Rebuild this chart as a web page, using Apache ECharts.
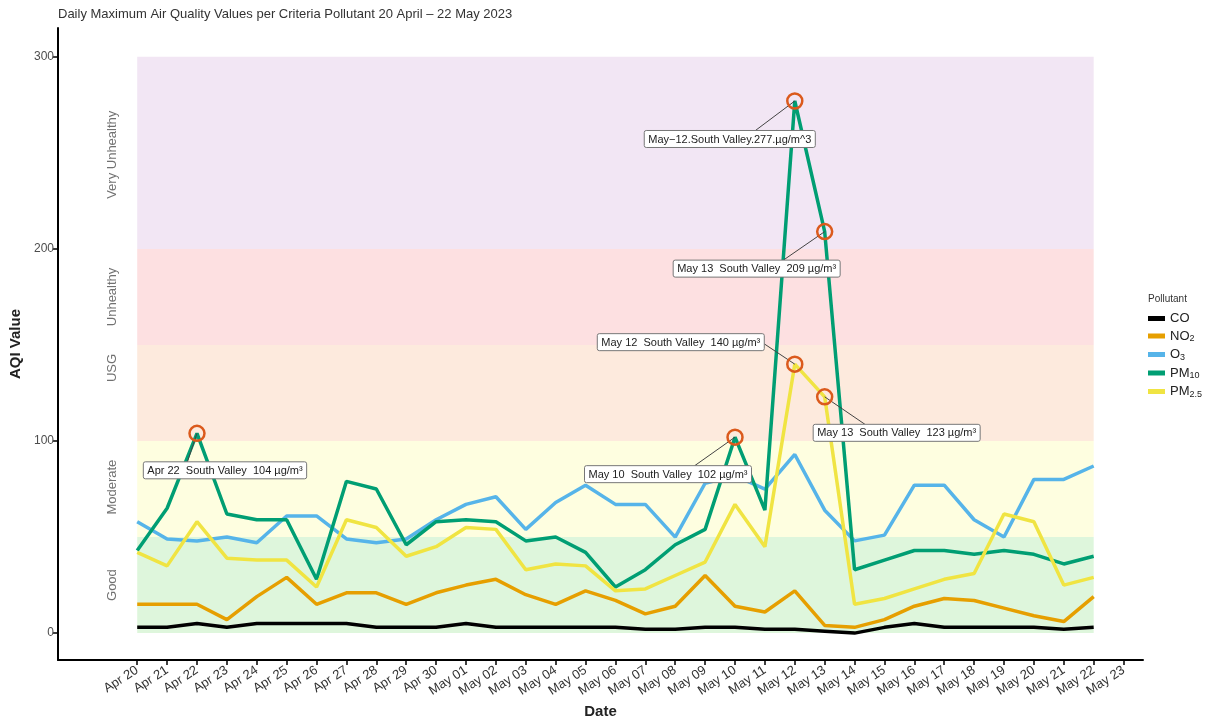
<!DOCTYPE html>
<html>
<head>
<meta charset="utf-8">
<script src="https://cdn.jsdelivr.net/npm/echarts@6/dist/echarts.min.js"></script>
<style>
  html, body { margin: 0; padding: 0; background: #fff; }
  #chart { width: 1228px; height: 718px; }
</style>
</head>
<body>
<div id="chart"></div>
<script>
// day labels, index 0 = Apr 20
const dateLabels = [
  'Apr 20', 'Apr 21', 'Apr 22', 'Apr 23', 'Apr 24', 'Apr 25', 'Apr 26', 'Apr 27',
  'Apr 28', 'Apr 29', 'Apr 30', 'May 01', 'May 02', 'May 03', 'May 04', 'May 05',
  'May 06', 'May 07', 'May 08', 'May 09', 'May 10', 'May 11', 'May 12', 'May 13',
  'May 14', 'May 15', 'May 16', 'May 17', 'May 18', 'May 19', 'May 20', 'May 21',
  'May 22', 'May 23'
];
const yTicks = [0, 100, 200, 300];

// daily max AQI per pollutant (Apr 20 - May 22)
const coValues = [3, 3, 5, 3, 5, 5, 5, 5, 3, 3, 3, 5, 3, 3, 3, 3, 3, 2, 2, 3, 3, 2, 2, 1, 0, 3, 5, 3, 3, 3, 3, 2, 3];
const no2Values = [15, 15, 15, 7, 19, 29, 15, 21, 21, 15, 21, 25, 28, 20, 15, 22, 17, 10, 14, 30, 14, 11, 22, 4, 3, 7, 14, 18, 17, 13, 9, 6, 19];
const o3Values = [58, 49, 48, 50, 47, 61, 61, 49, 47, 49, 59, 67, 71, 54, 68, 77, 67, 67, 50, 78, 82, 75, 93, 64, 48, 51, 77, 77, 59, 50, 80, 80, 87];
const pm10Values = [43, 65, 104, 62, 59, 59, 28, 79, 75, 46, 58, 59, 58, 48, 50, 42, 24, 33, 46, 54, 102, 64, 277, 209, 33, 38, 43, 43, 41, 43, 41, 36, 40];
const pm25Values = [42, 35, 58, 39, 38, 38, 24, 59, 55, 40, 45, 55, 54, 33, 36, 35, 22, 23, 30, 37, 67, 45, 140, 123, 15, 18, 23, 28, 31, 62, 58, 25, 29];

// AQI categories
const bandNames = ['Good', 'Moderate', 'USG', 'Unhealthy', 'Very Unhealthy'];
const bandLimits = [0, 50, 100, 150, 200, 300];
const bandLabelY = [25, 76, 138, 175, 249];
const bandColors = ['#def6dc', '#fefee0', '#fdeadd', '#fde0e1', '#f2e6f4'];

// highlighted exceedances
const annDays = [2, 20, 22, 23, 22, 23];
const annValues = [104, 102, 277, 209, 140, 123];
const annTexts = [
  'Apr 22  South Valley  104 µg/m³',
  'May 10  South Valley  102 µg/m³',
  'May\u221212.South Valley.277.µg/m^3',
  'May 13  South Valley  209 µg/m³',
  'May 12  South Valley  140 µg/m³',
  'May 13  South Valley  123 µg/m³'
];

const FONT = '"Liberation Sans", Arial, sans-serif';
const pollutants = ['CO', 'NO2', 'O3', 'PM10', 'PM2.5'];
const colors = ['#000000', '#e69f00', '#56b4e9', '#009e73', '#f0e442'];
const legendRich = { CO: 'CO', NO2: 'NO{s|2}', O3: 'O{s|3}', PM10: 'PM{s|10}', 'PM2.5': 'PM{s|2.5}' };
// label box offsets (px) from each highlighted point, and where the leader meets the box
const annOffsets = [[28, 37], [-67, 37], [-65, 38], [-68, 37], [-114, -22], [72, 36]];
const annAnchors = [[0.27, 0], [0.66, 0], [0.65, 0], [0.66, 0], [1, 0.6], [0.31, 0]];
const ANN_FONT = '11px ' + FONT;
const ANN_PAD = [2, 3, 1, 3];

const toPairs = arr => arr.map((v, i) => [i, v]);

const measureCtx = document.createElement('canvas').getContext('2d');
function textWidth(str) {
  measureCtx.font = ANN_FONT;
  return measureCtx.measureText(str).width;
}

const chart = echarts.init(document.getElementById('chart'));

const lineSeries = [coValues, no2Values, o3Values, pm10Values, pm25Values].map((vals, k) => ({
  name: pollutants[k],
  type: 'line',
  data: toPairs(vals),
  symbol: 'none',
  z: 3 + k,
  lineStyle: { width: 3.5, color: colors[k] },
  itemStyle: { color: colors[k] }
}));

// background bands on the first series
lineSeries[0].markArea = {
  silent: true,
  z: 1,
  data: bandNames.map((n, i) => [
    { xAxis: 0, yAxis: bandLimits[i], itemStyle: { color: bandColors[i] } },
    { xAxis: dateLabels.length - 2, yAxis: bandLimits[i + 1] }
  ])
};

const bandLabelSeries = {
  type: 'scatter',
  silent: true,
  symbolSize: 0,
  z: 2,
  data: bandNames.map((n, i) => ({ value: [-0.84, bandLabelY[i]], name: n })),
  label: {
    show: true,
    position: 'inside',
    rotate: 90,
    formatter: p => p.name,
    color: '#4d4d4d',
    fontSize: 13,
    fontFamily: FONT
  }
};

// ring + boxed label + leader line for each highlighted value
const annSeries = {
  type: 'custom',
  silent: true,
  z: 10,
  data: annDays.map((d, i) => [d, annValues[i]]),
  renderItem: (params, api) => {
    const i = params.dataIndex;
    const p = api.coord([api.value(0), api.value(1)]);
    const [dx, dy] = annOffsets[i];
    const [fx, fy] = annAnchors[i];
    const w = textWidth(annTexts[i]) + ANN_PAD[1] + ANN_PAD[3] + 2;
    const h = 11 + ANN_PAD[0] + ANN_PAD[2] + 3;
    const cx = p[0] + dx;
    const cy = p[1] + dy;
    const left = cx - w / 2;
    const top = cy - h / 2;
    return {
      type: 'group',
      children: [
        {
          type: 'line',
          shape: { x1: p[0], y1: p[1], x2: left + fx * w, y2: top + fy * h },
          style: { stroke: '#444', lineWidth: 1 }
        },
        {
          type: 'circle',
          shape: { cx: p[0], cy: p[1], r: 7.5 },
          style: { fill: 'none', stroke: '#db5a1c', lineWidth: 2.5 }
        },
        {
          type: 'rect',
          shape: { x: left, y: top, width: w, height: h, r: 2 },
          style: { fill: '#fff', stroke: '#777', lineWidth: 1 }
        },
        {
          type: 'text',
          style: {
            text: annTexts[i],
            x: cx,
            y: cy + 0.5,
            align: 'center',
            verticalAlign: 'middle',
            font: ANN_FONT,
            fill: '#222'
          }
        }
      ]
    };
  }
};

chart.setOption({
  animation: false,
  textStyle: { fontFamily: FONT },
  title: [
    {
      text: 'Daily Maximum Air Quality Values per Criteria Pollutant 20 April \u2013 22 May 2023',
      left: 58, top: 8, padding: 0,
      textStyle: { fontSize: 13, fontWeight: 'normal', color: '#333', fontFamily: FONT }
    },
    {
      text: 'Pollutant',
      left: 1148, top: 294, padding: 0,
      textStyle: { fontSize: 10, fontWeight: 'normal', color: '#333', fontFamily: FONT }
    }
  ],
  legend: {
    orient: 'vertical',
    left: 1148,
    top: 312,
    padding: 0,
    itemWidth: 17,
    itemHeight: 5,
    itemGap: 4.5,
    icon: 'rect',
    data: pollutants,
    formatter: n => legendRich[n],
    textStyle: {
      fontSize: 13,
      color: '#222',
      fontFamily: FONT,
      rich: { s: { fontSize: 9, color: '#222', padding: [6, 0, 0, 0], fontFamily: FONT } }
    }
  },
  grid: { left: 58, right: 85, top: 28, bottom: 58, containLabel: false, outerBoundsMode: 'none' },
  xAxis: {
    type: 'value',
    min: -2.65,
    max: 33.65,
    name: 'Date',
    nameLocation: 'middle',
    nameGap: 44,
    nameTextStyle: { fontSize: 15, fontWeight: 'bold', color: '#222' },
    axisLine: { show: true, onZero: false, lineStyle: { color: '#000', width: 2 } },
    axisTick: { show: true, length: 5, customValues: dateLabels.map((d, i) => i), lineStyle: { color: '#000', width: 1.5 } },
    axisLabel: {
      customValues: dateLabels.map((d, i) => i),
      formatter: v => dateLabels[Math.round(v)] || '',
      rotate: 33,
      color: '#333',
      fontSize: 13,
      margin: 9
    },
    splitLine: { show: false }
  },
  yAxis: {
    type: 'value',
    min: -14,
    max: 315,
    name: 'AQI Value',
    nameLocation: 'middle',
    nameGap: 30,
    nameTextStyle: { fontSize: 15, fontWeight: 'bold', color: '#222' },
    axisLine: { show: true, onZero: false, lineStyle: { color: '#000', width: 2 } },
    axisTick: { show: true, length: 5, customValues: yTicks, lineStyle: { color: '#000', width: 1.5 } },
    axisLabel: { customValues: yTicks, color: '#4d4d4d', fontSize: 12, margin: 4 },
    splitLine: { show: false }
  },
  series: [...lineSeries, bandLabelSeries, annSeries]
});
</script>
</body>
</html>
